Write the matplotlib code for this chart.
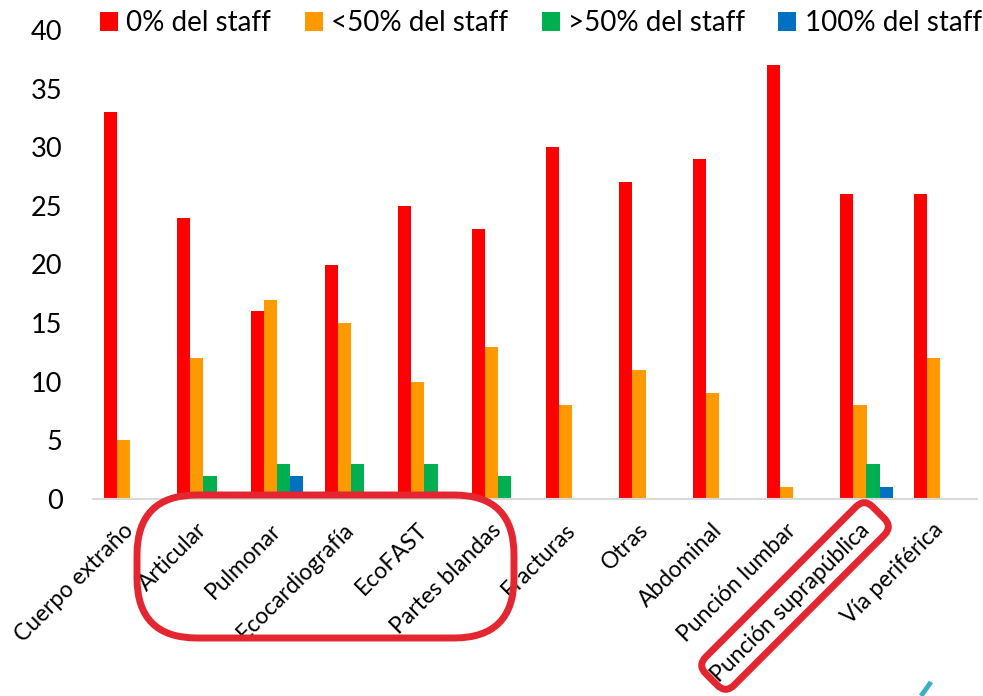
import matplotlib
matplotlib.use("Agg")
import matplotlib.pyplot as plt
import matplotlib.patches as patches
from matplotlib.transforms import Affine2D
import numpy as np

plt.rcParams['font.family'] = ['Lato', 'DejaVu Sans']

# Data
categories = ["Cuerpo extraño", "Articular", "Pulmonar", "Ecocardiografía", "EcoFAST",
              "Partes blandas", "Fracturas", "Otras", "Abdominal", "Punción lumbar",
              "Punción suprapública", "Vía periférica"]
staff_0 = [33, 24, 16, 20, 25, 23, 30, 27, 29, 37, 26, 26]
staff_lt50 = [5, 12, 17, 15, 10, 13, 8, 11, 9, 1, 8, 12]
staff_gt50 = [0, 2, 3, 3, 3, 2, 0, 0, 0, 0, 3, 0]
staff_100 = [0, 0, 2, 0, 0, 0, 0, 0, 0, 0, 1, 0]

series_names = ["0% del staff", "<50% del staff", ">50% del staff", "100% del staff"]
series_colors = ["#FF0000", "#FF9900", "#00B050", "#0070C0"]

W, H = 983, 696
fig = plt.figure(figsize=(W / 100, H / 100), dpi=100)
ax = fig.add_axes([93 / W, 1 - 499 / H, (977 - 93) / W, (499 - 30) / H])

x = np.arange(len(categories))
bw = 0.177
series = [staff_0, staff_lt50, staff_gt50, staff_100]
handles = []
for i, (vals, name, col) in enumerate(zip(series, series_names, series_colors)):
    b = ax.bar(x + (i - 1.5) * bw, vals, width=bw, color=col, label=name, zorder=2)
    handles.append(b)

ax.set_xlim(-0.5, len(categories) - 0.5)
ax.set_ylim(0, 40)
ax.set_yticks(range(0, 41, 5))
ax.tick_params(axis='y', length=0, pad=22, labelsize=19.5)
ax.tick_params(axis='x', length=0, pad=20)
ax.set_xticks(x)
ax.set_xticklabels(categories, rotation=45, ha='right', va='center',
                   rotation_mode='anchor', fontsize=16.5)
for s in ['top', 'right', 'left']:
    ax.spines[s].set_visible(False)
ax.spines['bottom'].set_color('#d9d9d9')
ax.spines['bottom'].set_linewidth(1.5)

fig.legend(handles=handles, labels=series_names, loc='center', ncol=4,
           bbox_to_anchor=(541 / W, 1 - 23 / H), frameon=False, fontsize=20,
           handlelength=0.65, handleheight=0.65, handletextpad=0.3,
           columnspacing=1.2, borderaxespad=0)

# Overlay in pixel coordinates for the hand-drawn highlights
ov = fig.add_axes([0, 0, 1, 1], zorder=5)
ov.set_xlim(0, W)
ov.set_ylim(0, H)
ov.axis('off')
ov.patch.set_alpha(0)

hl = '#E3262F'
box1 = patches.FancyBboxPatch((137, H - 638), 514 - 137, 638 - 495,
                              boxstyle="round,pad=0,rounding_size=60",
                              facecolor='none', edgecolor=hl, linewidth=5)
ov.add_patch(box1)

cx, cy = 795, H - 596
L, Wd = 236, 40
box2 = patches.FancyBboxPatch((cx - L / 2, cy - Wd / 2), L, Wd,
                              boxstyle="round,pad=0,rounding_size=12",
                              facecolor='none', edgecolor=hl, linewidth=5)
box2.set_transform(Affine2D().rotate_deg_around(cx, cy, 45) + ov.transData)
ov.add_patch(box2)

# partial logo mark at bottom right
ov.plot([921, 931], [0, 14], color='#3AB0C3', linewidth=3.5, solid_capstyle='butt')

fig.savefig("out.png", dpi=100)
